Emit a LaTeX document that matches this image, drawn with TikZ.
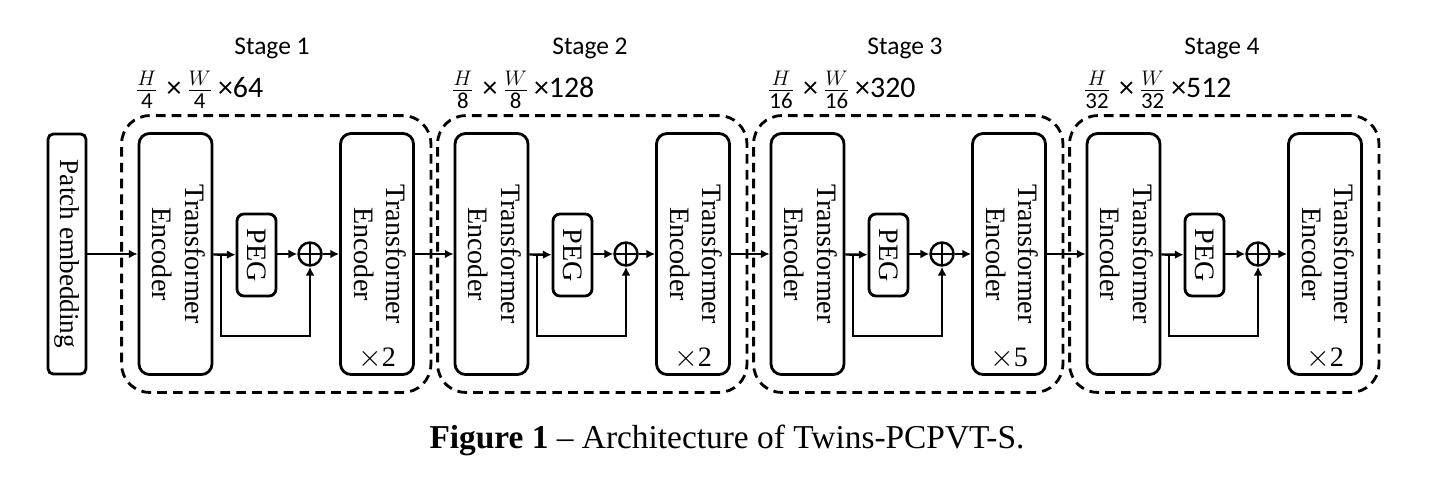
\documentclass[tikz,border=0pt]{standalone}
\usepackage{fontspec}
\setmainfont{Liberation Serif}
\newfontfamily\calibri{Carlito}
\usetikzlibrary{arrows.meta,positioning,fit,calc}

\newcommand{\dimfrac}[2]{$\frac{\mbox{\fontsize{13}{14}\selectfont$#1$}}{\mbox{\fontsize{13}{14}\selectfont#2}}$}

\begin{document}
\begin{tikzpicture}[
    auto,
    encblock/.style={
        rectangle,
        draw,
        line width=1.6pt,
        minimum width=1.46cm,
        minimum height=4.82cm,
        inner sep=0pt,
        rounded corners=6pt,
        font=\fontsize{16}{18.5}\selectfont
    },
    patchblock/.style={
        rectangle,
        draw,
        line width=1.6pt,
        minimum width=0.76cm,
        minimum height=4.8cm,
        inner sep=0pt,
        rounded corners=3pt,
        font=\fontsize{15.5}{18}\selectfont
    },
    pegblock/.style={
        rectangle,
        draw,
        line width=1.6pt,
        minimum width=0.78cm,
        minimum height=1.64cm,
        inner sep=0pt,
        rounded corners=4pt,
        font=\fontsize{16}{18}\selectfont
    },
    addnode/.style={
        circle,
        draw,
        line width=1.4pt,
        minimum size=0.46cm,
        inner sep=0pt,
        path picture={
            \draw[line width=1.4pt] (path picture bounding box.north) -- (path picture bounding box.south)
                (path picture bounding box.west) -- (path picture bounding box.east);
        }
    },
    stagebox/.style={
        rectangle,
        draw,
        line width=1.6pt,
        dash pattern=on 5.5pt off 3.5pt,
        rounded corners=16pt,
        inner xsep=0.32cm,
        inner ysep=0.33cm
    },
    stagelabel/.style={font=\calibri\fontsize{14.5}{16}\selectfont},
    dimlabel/.style={anchor=west, inner sep=0pt, font=\calibri\fontsize{17}{19}\selectfont},
    repeatlabel/.style={inner sep=0pt, font=\fontsize{16}{18}\selectfont},
    line/.style={draw, line width=1.4pt, -{Latex[length=5pt,width=5pt]}}
]

\useasboundingbox (0,0) rectangle (28.76,9.6);

% Patch embedding
\node [patchblock] (patch) at (1.34,4.52) {\rotatebox{-90}{Patch embedding}};

% Stage 1
\node [encblock] (enc1a) at (3.51,4.52) {\rotatebox{-90}{\begin{tabular}{@{}c@{}}Transformer\\Encoder\end{tabular}}};
\node [pegblock] (peg1) at (5.13,4.50) {\rotatebox{-90}{PEG}};
\node [addnode] (add1) at (6.20,4.52) {};
\node [encblock] (enc1b) at (7.54,4.52) {\rotatebox{-90}{\begin{tabular}{@{}c@{}}Transformer\\Encoder\end{tabular}}};
\node [repeatlabel, above=0.14cm of enc1b.south] (rep1) {$\times$2};
\node [stagebox, fit=(enc1a)(enc1b)] (stage1) {};
\node [dimlabel] (dim1) at (2.70,7.80) {\dimfrac{H}{4}\;×\,\dimfrac{W}{4}\,×64};
\node [stagelabel] (title1) at (5.44,8.64) {Stage 1};

% Stage 2
\node [encblock] (enc2a) at (9.83,4.52) {\rotatebox{-90}{\begin{tabular}{@{}c@{}}Transformer\\Encoder\end{tabular}}};
\node [pegblock] (peg2) at (11.45,4.50) {\rotatebox{-90}{PEG}};
\node [addnode] (add2) at (12.52,4.52) {};
\node [encblock] (enc2b) at (13.86,4.52) {\rotatebox{-90}{\begin{tabular}{@{}c@{}}Transformer\\Encoder\end{tabular}}};
\node [repeatlabel, above=0.14cm of enc2b.south] (rep2) {$\times$2};
\node [stagebox, fit=(enc2a)(enc2b)] (stage2) {};
\node [dimlabel] (dim2) at (9.02,7.80) {\dimfrac{H}{8}\;×\,\dimfrac{W}{8}\,×128};
\node [stagelabel] (title2) at (11.80,8.64) {Stage 2};

% Stage 3
\node [encblock] (enc3a) at (16.15,4.52) {\rotatebox{-90}{\begin{tabular}{@{}c@{}}Transformer\\Encoder\end{tabular}}};
\node [pegblock] (peg3) at (17.77,4.50) {\rotatebox{-90}{PEG}};
\node [addnode] (add3) at (18.84,4.52) {};
\node [encblock] (enc3b) at (20.18,4.52) {\rotatebox{-90}{\begin{tabular}{@{}c@{}}Transformer\\Encoder\end{tabular}}};
\node [repeatlabel, above=0.14cm of enc3b.south] (rep3) {$\times$5};
\node [stagebox, fit=(enc3a)(enc3b)] (stage3) {};
\node [dimlabel] (dim3) at (15.34,7.80) {\dimfrac{H}{16}\;×\,\dimfrac{W}{16}\,×320};
\node [stagelabel] (title3) at (18.10,8.64) {Stage 3};

% Stage 4
\node [encblock] (enc4a) at (22.47,4.52) {\rotatebox{-90}{\begin{tabular}{@{}c@{}}Transformer\\Encoder\end{tabular}}};
\node [pegblock] (peg4) at (24.09,4.50) {\rotatebox{-90}{PEG}};
\node [addnode] (add4) at (25.16,4.52) {};
\node [encblock] (enc4b) at (26.50,4.52) {\rotatebox{-90}{\begin{tabular}{@{}c@{}}Transformer\\Encoder\end{tabular}}};
\node [repeatlabel, above=0.14cm of enc4b.south] (rep4) {$\times$2};
\node [stagebox, fit=(enc4a)(enc4b)] (stage4) {};
\node [dimlabel] (dim4) at (21.66,7.80) {\dimfrac{H}{32}\;×\,\dimfrac{W}{32}\,×512};
\node [stagelabel] (title4) at (24.44,8.64) {Stage 4};

% Skip branches
\coordinate (split1) at (4.42,4.52);
\coordinate (low1) at (4.42,2.88);
\coordinate (split2) at (10.74,4.52);
\coordinate (low2) at (10.74,2.88);
\coordinate (split3) at (17.06,4.52);
\coordinate (low3) at (17.06,2.88);
\coordinate (split4) at (23.38,4.52);
\coordinate (low4) at (23.38,2.88);

% Connections
\draw [line] (patch) -- (enc1a);
\draw [line] (enc1a) -- (peg1);
\draw [line] (peg1.east |- add1) -- (add1);
\draw [line] (add1) -- (enc1b);
\draw [line] (split1) -- (low1) -| (add1);
\draw [line] (enc1b) -- (enc2a);
\draw [line] (enc2a) -- (peg2);
\draw [line] (peg2.east |- add2) -- (add2);
\draw [line] (add2) -- (enc2b);
\draw [line] (split2) -- (low2) -| (add2);
\draw [line] (enc2b) -- (enc3a);
\draw [line] (enc3a) -- (peg3);
\draw [line] (peg3.east |- add3) -- (add3);
\draw [line] (add3) -- (enc3b);
\draw [line] (split3) -- (low3) -| (add3);
\draw [line] (enc3b) -- (enc4a);
\draw [line] (enc4a) -- (peg4);
\draw [line] (peg4.east |- add4) -- (add4);
\draw [line] (add4) -- (enc4b);
\draw [line] (split4) -- (low4) -| (add4);

% Caption
\node [font=\fontsize{19}{22}\selectfont] (caption) at (14.54,0.80) {\textbf{Figure 1} -- Architecture of Twins-PCPVT-S.};

\end{tikzpicture}
\end{document}
